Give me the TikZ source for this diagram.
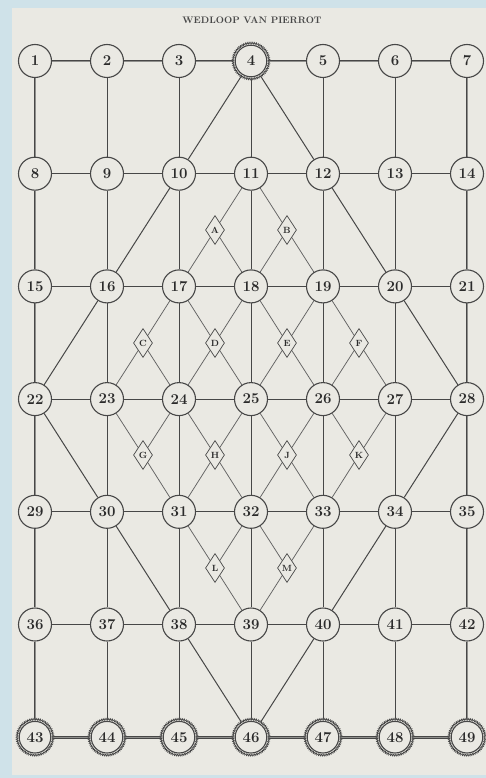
\documentclass[tikz,border=0pt]{standalone}
\usetikzlibrary{shapes.geometric,decorations.pathmorphing,backgrounds}
\definecolor{paper}{HTML}{EAE9E3}
\definecolor{scan}{HTML}{CFE2E9}
\definecolor{ink}{HTML}{474747}
\begin{document}
\begin{tikzpicture}[x=1pt,y=-1pt,
  spot/.style={circle,draw=ink,line width=1.1pt,fill=paper,minimum size=33pt,inner sep=0pt,
    font=\fontsize{15}{15}\selectfont\bfseries,text=ink!60!black},
  gear/.style={circle,draw=ink,line width=0.65pt,fill=paper,minimum size=36pt,inner sep=0pt,
    font=\fontsize{15}{15}\selectfont\bfseries,text=ink!60!black,
    decorate,decoration={zigzag,segment length=1.8pt,amplitude=0.9pt},
    path picture={\draw[ink,line width=1.1pt] (path picture bounding box.center) circle (15.8pt);}},
  diam/.style={diamond,draw=ink,line width=0.7pt,fill=paper,minimum width=19pt,minimum height=29pt,
    inner sep=0pt,font=\fontsize{9}{9}\selectfont\bfseries,text=ink!60!black},
  grid/.style={draw=ink,line width=0.9pt},
  rim/.style={draw=ink,line width=1pt,double=ink!55!paper,double distance=0.8pt},
  lattice/.style={draw=ink!85,line width=0.75pt}]
\useasboundingbox (0,0) rectangle (486,778);
\begin{pgfonlayer}{background}
  \fill[scan] (0,0) rectangle (486,778);
  \fill[paper] (12,8) rectangle (486,775);
\end{pgfonlayer}
\node[font=\fontsize{9.5}{9.5}\selectfont\bfseries,text=ink] (title) at (252,20) {WEDLOOP VAN PIERROT};
% numbered spots
\foreach \r in {0,...,6}{
  \foreach \c in {0,...,6}{
    \pgfmathtruncatemacro\k{7*\r+\c+1}
    \ifnum\k=4 \def\sty{gear}\else\ifnum\k>42 \def\sty{gear}\else\def\sty{spot}\fi\fi
    \node[\sty] (n\k) at ({35+72*\c},{61+112.7*\r}) {\k};
  }
}
% lettered diamonds
\node[diam] (A) at (215,230) {A};
\node[diam] (B) at (287,230) {B};
\node[diam] (C) at (143,343) {C};
\node[diam] (D) at (215,343) {D};
\node[diam] (E) at (287,343) {E};
\node[diam] (F) at (359,343) {F};
\node[diam] (G) at (143,455) {G};
\node[diam] (H) at (215,455) {H};
\node[diam] (J) at (287,455) {J};
\node[diam] (K) at (359,455) {K};
\node[diam] (L) at (215,568) {L};
\node[diam] (M) at (287,568) {M};
\begin{pgfonlayer}{background}
  % horizontal
  \foreach \r in {0,...,6}{
    \foreach \c in {0,...,5}{
      \pgfmathtruncatemacro\a{7*\r+\c+1}
      \pgfmathtruncatemacro\b{\a+1}
      \ifnum\r=0 \def\st{rim}\else\ifnum\r=6 \def\st{rim}\else\def\st{grid}\fi\fi
      \draw[\st] (n\a) -- (n\b);
    }
  }
  % vertical
  \foreach \r in {0,...,5}{
    \foreach \c in {0,...,6}{
      \pgfmathtruncatemacro\a{7*\r+\c+1}
      \pgfmathtruncatemacro\b{\a+7}
      \ifnum\c=0 \def\st{rim}\else\ifnum\c=6 \def\st{rim}\else\def\st{grid}\fi\fi
      \draw[\st] (n\a) -- (n\b);
    }
  }
  % big diamond
  \foreach \a/\b in {4/10,10/16,16/22,4/12,12/20,20/28,22/30,30/38,38/46,28/34,34/40,40/46}{
    \draw[grid,line width=1pt] (n\a) -- (n\b);
  }
  % lattice through the lettered diamonds
  \foreach \d/\p in {A/11,A/17,A/18, B/11,B/18,B/19, C/17,C/23,C/24,
    D/17,D/18,D/24,D/25, E/18,E/19,E/25,E/26, F/19,F/26,F/27,
    G/23,G/24,G/31, H/24,H/25,H/31,H/32, J/25,J/26,J/32,J/33,
    K/26,K/27,K/33, L/31,L/32,L/39, M/32,M/33,M/39}{
    \draw[lattice] (\d) -- (n\p);
  }
\end{pgfonlayer}
\end{tikzpicture}
\end{document}
